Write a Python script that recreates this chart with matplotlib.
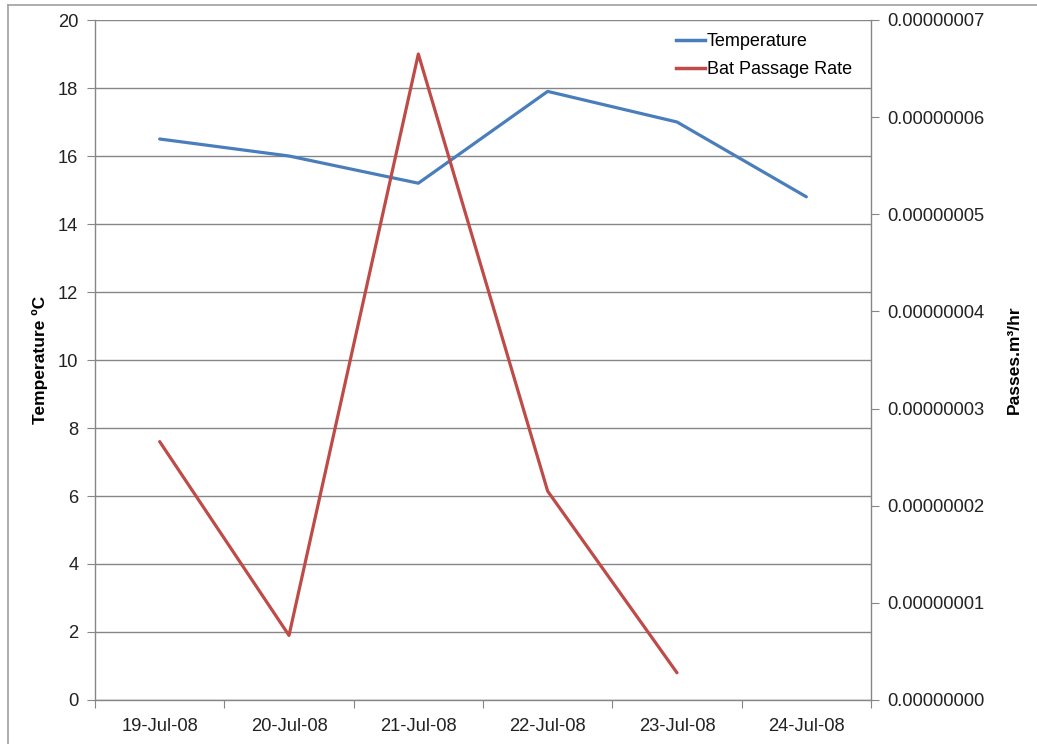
import matplotlib
matplotlib.use("Agg")
import matplotlib.pyplot as plt
from matplotlib.lines import Line2D
from matplotlib.ticker import FuncFormatter

plt.rcParams['font.family'] = ['Liberation Sans', 'DejaVu Sans']

dates = ['19-Jul-08', '20-Jul-08', '21-Jul-08', '22-Jul-08', '23-Jul-08', '24-Jul-08']
temperature = [16.5, 16.0, 15.2, 17.9, 17.0, 14.8]
bat_rate = [2.66e-8, 0.665e-8, 6.65e-8, 2.15e-8, 0.28e-8]

blue = '#4A7EBB'
red = '#BE4B48'
gray = '#868686'

fig = plt.figure(figsize=(10.37, 7.44), dpi=100)
W, H = 1037, 744
ax = fig.add_axes([95 / W, 1 - 700 / H, 776 / W, 680 / H])
ax2 = ax.twinx()

x = list(range(len(dates)))
ax.plot(x, temperature, color=blue, lw=2.3, solid_capstyle='round', zorder=3)
ax2.plot(x[:len(bat_rate)], bat_rate, color=red, lw=2.3, solid_capstyle='round', zorder=3)

ax.set_xlim(-0.5, len(dates) - 0.5)
ax.set_ylim(0, 20)
ax.set_yticks(range(0, 21, 2))
ax2.set_ylim(0, 7e-8)
ax2.set_yticks([i * 1e-8 for i in range(8)])
ax2.yaxis.set_major_formatter(FuncFormatter(lambda v, p: f'{v:.8f}'))

ax.set_xticks([i - 0.5 for i in range(len(dates) + 1)])
ax.set_xticklabels([])
ax.set_xticks(x, minor=True)
ax.set_xticklabels(dates, minor=True)
ax.tick_params(axis='x', which='minor', length=0, pad=13, labelsize=13.2, labelcolor='#222222')
ax.tick_params(axis='x', which='major', length=6, color=gray, direction='out')
ax.tick_params(axis='y', length=6, color=gray, direction='out', labelsize=13.2, labelcolor='#222222', pad=6)
ax2.tick_params(axis='y', length=6, color=gray, direction='out', labelsize=13.2, labelcolor='#222222', pad=6)

ax.grid(axis='y', color=gray, lw=1.0)
ax.set_axisbelow(True)
for a in (ax, ax2):
    a.spines['top'].set_visible(False)
    for s in ('left', 'right', 'bottom'):
        a.spines[s].set_color(gray)
        a.spines[s].set_linewidth(1.0)
ax2.spines['left'].set_visible(False)
ax2.spines['bottom'].set_visible(False)
ax.spines['right'].set_visible(False)

ax.set_ylabel('Temperature ºC', fontsize=12.5, fontweight='bold', labelpad=7)
ax2.set_ylabel('Passes.m³/hr', fontsize=12.5, fontweight='bold', labelpad=16)

handles = [Line2D([], [], color=blue, lw=2.5), Line2D([], [], color=red, lw=2.5)]
fig.legend(handles, ['Temperature', 'Bat Passage Rate'], loc='upper left',
           bbox_to_anchor=(667 / W, 1 - 24 / H), frameon=False, fontsize=13,
           handlelength=1.6, handletextpad=0.1, labelspacing=0.6, borderpad=0)

# figure border lines (left and top)
fig.add_artist(Line2D([8 / W, 8 / W], [0, 1 - 5 / H], color='#A0A0A0', lw=1.2, transform=fig.transFigure))
fig.add_artist(Line2D([8 / W, 1], [1 - 5 / H, 1 - 5 / H], color='#A0A0A0', lw=1.2, transform=fig.transFigure))

fig.savefig('out.png', dpi=100)
